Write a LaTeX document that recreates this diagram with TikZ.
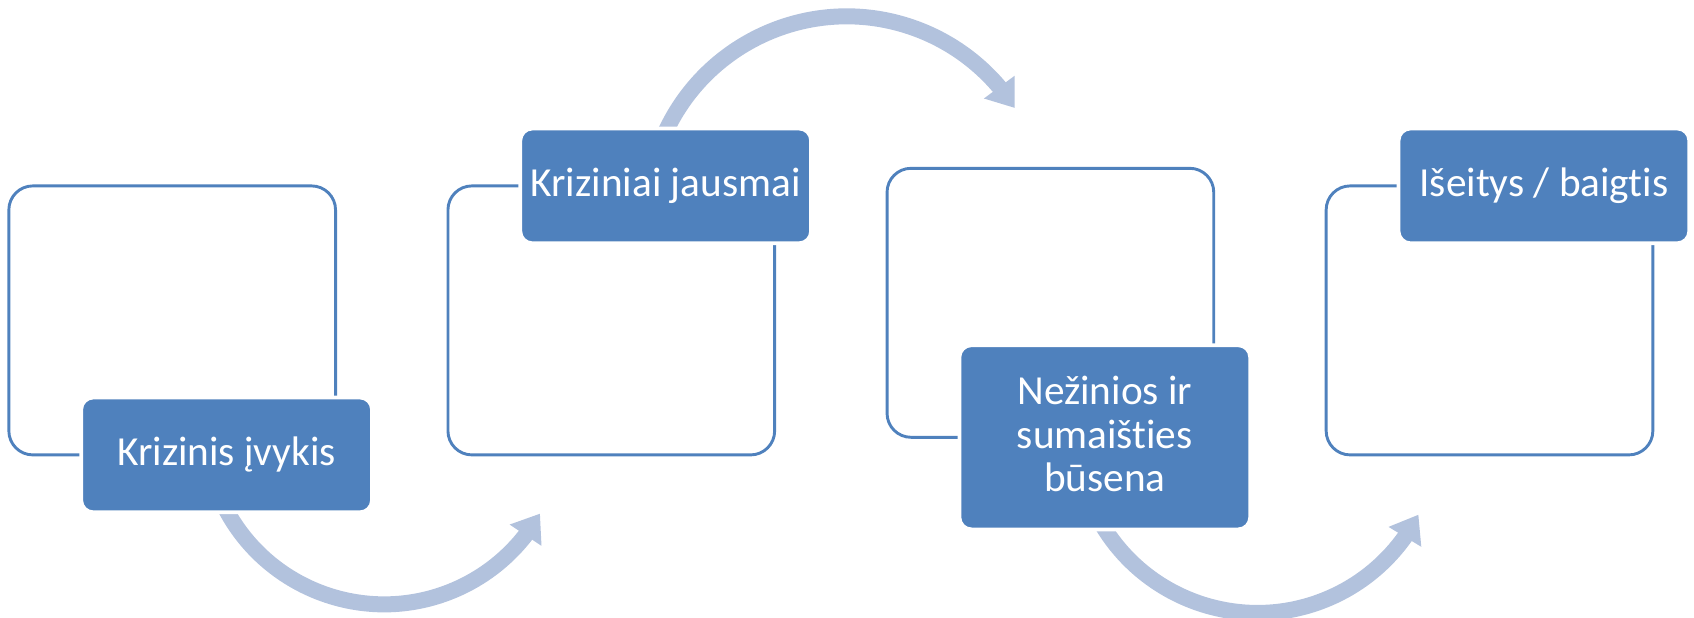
\documentclass[tikz,border=0pt]{standalone}
\usepackage{fontspec}
\setmainfont{Carlito}[Ligatures=NoCommon]
\definecolor{crisis_blue}{RGB}{79, 129, 189}
\definecolor{crisis_light}{RGB}{178, 194, 221}
\usetikzlibrary{arrows.meta, positioning, bending, backgrounds}

\begin{document}
\begin{tikzpicture}[
        node distance=2.248cm,
        panel/.style={draw=crisis_blue, line width=0.058cm,
                      rounded corners=0.48cm, inner sep=0pt, outer sep=0pt,
                      minimum width=6.534cm, minimum height=5.38cm},
        stage/.style={draw=white, fill=crisis_blue, line width=0.076cm,
                      rounded corners=0.24cm, text=white, align=center,
                      minimum width=5.816cm, minimum height=2.296cm,
                      font=\fontsize{23.5}{24.8}\selectfont,
                      text height=0.6cm, text depth=0.176cm},
        arr/.style={-{Triangle[width=0.73cm, length=0.52cm]},
                    crisis_light, line width=0.32cm},
      ]
        \useasboundingbox (0,0) rectangle (33.88,12.34);
        % outline panels
        \node[panel] (f1) at (3.444,5.932) {};
        \node[panel, right=of f1] (f2) {};
        \node[panel, right=of f2, yshift=0.352cm] (f3) {};
        \node[panel, right=of f3, yshift=-0.352cm] (f4) {};
        % filled stage boxes
        \node[stage] (event) at ([xshift=1.088cm]f1.south)
          {Krizinis įvykis};
        \node[stage] (feel) at ([xshift=1.088cm]f2.north)
          {Kriziniai jausmai};
        \node[stage, minimum height=3.684cm,
              text height=2.348cm] (confuse) at ([xshift=1.088cm]f3.south)
          {Nežinios ir\\ sumaišties\\ būsena};
        \node[stage] (outcome) at ([xshift=1.088cm]f4.north)
          {Išeitys / baigtis};
        % bent arrows behind the boxes
        \begin{scope}[on background layer]
          \draw[arr] ([shift={(-0.10,0.268)}]event.south)
            arc[start angle=205, end angle=330.4, radius=3.586];
          \draw[arr] ([shift={(-0.136,-0.426)}]feel.north)
            arc[start angle=160, end angle=32.8, radius=3.998];
          \draw[arr] ([shift={(-0.228,0.458)}]confuse.south)
            arc[start angle=205, end angle=332.8, radius=3.62];
        \end{scope}
      \end{tikzpicture}
\end{document}
